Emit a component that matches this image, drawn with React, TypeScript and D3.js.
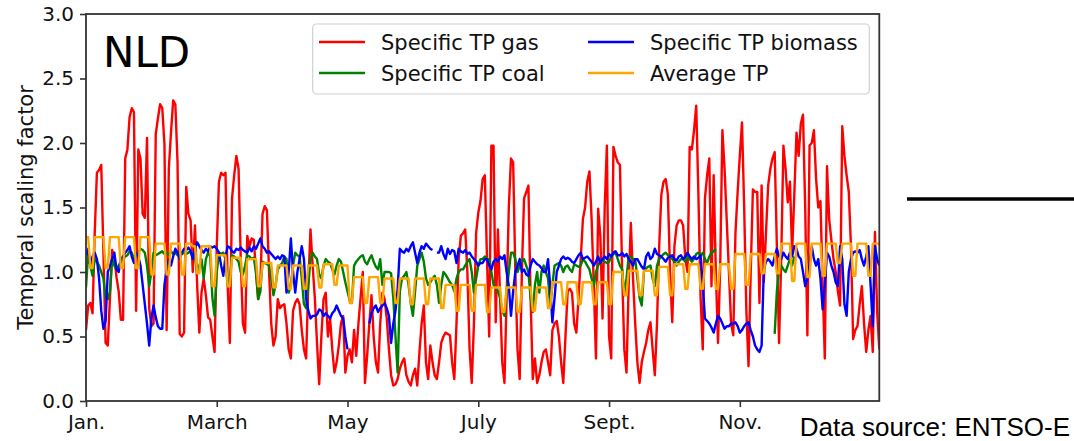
import React, { useEffect, useRef } from 'react';
import * as d3 from 'd3';

// x positions are day indices (0 = 1 Jan), one value per day
const monthTicks = [0, 60, 120, 180, 240, 300];
const monthLabels = ['Jan.', 'March', 'May', 'July', 'Sept.', 'Nov.'];
const yTicks = [0, 0.5, 1, 1.5, 2, 2.5, 3];

const gas = [
  0.55, 0.74, 0.76, 0.68, 1.3, 1.77, 1.79, 1.83, 1.15, 0.45,
  0.43, 0.8, 1.17, 1.12, 0.96, 0.85, 0.63, 0.63, 1.88, 1.95,
  2.2, 2.27, 2.24, 0.7, 1.95, 1.88, 1.45, 1.42, 2.04, 0.72,
  0.58, 0.6, 2.07, 2.19, 2.3, 2.27, 1.99, 0.55, 1.8, 2.08,
  2.33, 2.3, 1.85, 0.52, 0.5, 0.53, 1.66, 1.45, 1.4, 1.0,
  1.36, 0.9, 0.53, 0.84, 0.95, 0.82, 0.65, 0.63, 0.5, 0.38,
  1.2, 1.7, 1.77, 1.75, 1.77, 0.9, 0.45, 1.57, 1.75, 1.9,
  1.8, 1.1, 0.6, 0.53, 1.28, 1.2, 1.26, 1.25, 1.0, 0.79,
  0.9, 1.45, 1.51, 1.48, 1.0, 0.6, 0.43, 0.5, 0.79, 0.72,
  0.74, 0.75, 0.6, 0.4, 0.33, 0.7, 0.76, 0.79, 0.75, 0.55,
  0.4, 0.33, 0.9, 1.33, 1.05, 0.8, 0.45, 0.13, 0.5, 0.79,
  0.84, 0.5, 0.64, 0.4, 0.22, 0.3, 0.43, 0.6, 0.66, 0.22,
  0.35, 0.4, 0.3, 0.55, 0.35, 0.6, 0.8, 1.0, 0.14, 0.35,
  0.6, 0.82, 0.5, 0.3, 0.22, 0.6, 0.84, 0.79, 0.64, 0.4,
  0.2, 0.12, 0.13, 0.17, 0.25, 0.3, 0.33, 0.2, 0.15, 0.12,
  0.2, 0.25, 0.12, 0.38, 0.6, 0.74, 0.3, 0.17, 0.43, 0.3,
  0.2, 0.17, 0.3, 0.45, 0.5, 0.53, 0.52, 0.51, 0.3, 0.17,
  0.6, 1.1, 1.28, 1.3, 1.33, 1.0, 0.4, 0.14, 0.6, 1.3,
  1.46, 1.55, 1.72, 1.75, 1.1, 0.5, 1.98, 1.98, 0.61, 1.33,
  0.8, 0.3, 0.14, 0.8, 1.5, 1.88, 1.85, 1.0, 0.4, 0.17,
  1.0, 1.57, 1.62, 1.67, 0.8, 0.17, 0.33, 0.14, 0.2, 0.3,
  0.38, 0.4, 0.3, 0.2, 0.55, 0.6, 0.62, 0.5, 0.3, 0.14,
  0.5, 0.85, 0.87, 0.84, 0.6, 0.53, 0.8, 1.1, 1.41, 1.5,
  1.7, 1.78, 1.41, 0.9, 0.33, 1.49, 1.28, 0.64, 1.5, 1.98,
  0.5, 0.33, 1.97, 1.9, 1.85, 1.83, 1.0, 0.4, 0.22, 0.9,
  1.38, 0.95, 0.6, 0.3, 0.14, 0.3, 0.38, 0.45, 0.55, 0.61,
  0.4, 0.2, 0.6, 1.2, 1.6, 1.7, 1.72, 1.6, 1.0, 0.61,
  1.2, 1.36, 1.4, 1.4, 1.36, 1.1, 1.0, 1.97, 1.95, 2.1,
  2.29, 1.6, 0.8, 0.4, 1.57, 1.75, 1.88, 0.89, 1.75, 1.0,
  0.45, 1.05, 2.1, 1.8, 1.4, 1.0, 0.6, 0.51, 1.3, 1.62,
  1.9, 2.16, 1.5, 0.7, 0.27, 1.0, 1.64, 1.62, 1.62, 0.76,
  1.67, 0.92, 1.3, 1.67, 1.8, 1.88, 1.93, 1.2, 0.45, 1.1,
  1.98, 1.8, 1.54, 1.7, 1.15, 1.6, 2.08, 1.9, 2.15, 2.22,
  1.5, 0.51, 1.98, 2.0, 2.1, 1.72, 1.5, 1.55, 0.9, 0.33,
  1.82, 1.41, 1.25, 1.1, 1.0, 0.85, 0.74, 2.13, 1.9, 1.75,
  1.62, 1.2, 0.48, 0.55, 0.58, 0.75, 0.89, 0.6, 0.38, 0.55,
  0.66, 0.38, 1.31, 0.7, 0.4,
];

const coal = [
  0.88, 1.15, 1.05, 0.97, 1.1, 1.08, 1.05, 1.0, 0.95, 0.8,
  0.79, 0.85, 1.1, 1.05, 1.02, 1.05, 1.08, 1.1, 1.12, 1.13,
  1.16, 1.15, 1.1, 1.12, 1.15, 1.18, 1.17, 1.15, 1.05, 0.89,
  1.0, 1.15, 1.13, 1.14, 1.15, 1.16, 1.14, 1.15, 1.13, 1.16,
  1.14, 1.15, 1.13, 1.15, 1.14, 1.15, 1.14, 1.15, 1.16, 1.14,
  1.12, 1.0, 1.05, 1.1, 0.95, 1.1, 1.15, 1.12, 0.8, 0.66,
  1.0, 1.15, 1.14, 1.15, 1.1, 0.89, 0.95, 1.13, 1.12, 1.1,
  1.08, 1.0, 0.98, 1.05, 1.13, 1.12, 1.1, 1.11, 1.0, 0.79,
  0.85, 1.08, 1.07, 1.06, 1.05, 0.95, 0.82, 0.9, 1.02, 1.05,
  1.07, 1.12, 1.1, 0.84, 0.9, 1.05, 1.15, 1.13, 1.12, 0.95,
  0.75, 0.72, 0.9, 1.1, 1.15, 1.12, 1.1, 0.98, 0.95, 1.05,
  1.1, 1.08, 1.07, 1.02, 0.98, 1.05, 1.1, 1.08, 1.0, 0.92,
  0.85, 0.78, 0.76, 1.05, 1.08, 1.1, 1.12, 1.13, 1.08, 1.06,
  1.1, 1.13, 1.08, 1.04, 1.02, 1.1, 0.9, 1.0, 1.0, 1.0,
  0.99, 0.8, 0.5, 0.22, 0.85, 0.95, 0.97, 1.0, 0.9, 0.76,
  0.66, 0.85, 1.05, 1.1, 1.15, 1.08, 0.95, 0.9, 0.92, 0.95,
  0.97, 0.9, 0.76, 0.9, 1.0, 0.98, 0.95, 0.92, 0.9, 0.85,
  0.95, 1.0, 1.02, 1.02, 1.05, 1.08, 1.1, 1.0, 0.84, 0.95,
  1.05, 1.1, 1.1, 1.12, 1.1, 1.1, 1.0, 0.9, 0.88, 0.85,
  0.8, 0.7, 0.66, 0.85, 1.0, 1.15, 1.15, 1.1, 1.0, 1.05,
  1.08, 1.1, 1.05, 1.0, 0.8, 0.69, 0.9, 1.0, 0.84, 1.0,
  1.05, 1.0, 0.95, 0.74, 0.9, 1.05, 1.06, 1.07, 1.05, 1.0,
  1.04, 1.05, 1.02, 1.0, 1.06, 1.05, 1.04, 1.05, 1.1, 1.08,
  1.05, 1.02, 0.95, 0.89, 1.0, 1.05, 1.08, 1.1, 1.08, 1.07,
  1.08, 1.12, 1.14, 1.15, 1.1, 1.05, 1.02, 0.82, 0.95, 1.12,
  1.12, 1.1, 1.1, 0.95, 0.8, 0.74, 1.0, 1.03, 1.04, 1.05,
  0.95, 0.89, 1.05, 1.1, 1.12, 1.14, 1.15, 1.13, 1.12, 1.1,
  1.08, 1.05, 1.08, 1.1, 1.1, 1.08, 1.12, 1.1, 1.08, 1.1,
  1.14, 1.15, 1.13, 1.15, 1.1, 1.07, 1.12, 1.15, 1.16, 1.18,
  null, null, null, null, null, null, null, null, null, null,
  null, null, null, null, null, null, null, null, null, null,
  null, null, null, null, null, null,
  0.52, 0.85, 1.02, 1.05, 1.02, 1.0, 1.05, 1.1, 1.05, 1.12,
  null, null, null, null, null, null, null, null, null, null,
  null, null, null, null, null, null, null, null, null, null,
  null, null, null, null, null, null, null, null, null, null,
  null, null, null, null, null, null, null, null, null,
];

const biomass = [
  1.13, 1.18, 1.05, 1.12, 1.15, 1.1, 0.95, 0.7, 0.56, 0.62,
  1.0, 1.05, 1.1, 1.15, 1.02, 1.0, 1.1, 1.12, 1.15, 1.17,
  1.2, 1.12, 1.07, 1.15, 1.12, 1.05, 0.9, 0.75, 0.6, 0.43,
  0.64, 0.74, 0.65, 0.58, 0.56, 0.56, 0.9, 1.02, 1.1, 1.05,
  1.12, 1.18, 1.15, 1.1, 1.15, 1.18, 1.17, 1.19, 1.16, 1.1,
  1.18, 1.23, 1.2, 1.17, 1.15, 1.18, 1.16, 1.2, 1.19, 1.2,
  1.18, 1.15, 1.05, 0.97, 1.12, 1.2, 1.19, 1.16, 1.15, 1.18,
  1.17, 1.19, 1.17, 1.16, 1.15, 1.19, 1.16, 1.2, 1.18, 1.22,
  1.26, 1.2, 1.18, 1.15, 1.16, 1.14, 1.12, 1.1, 1.12, 1.1,
  1.13, 1.12, 0.84, 1.0, 1.26, 1.0, 0.84, 1.0, 1.1, 1.2,
  1.1, 0.8, 0.7, 0.64, 0.66, 0.66, 0.67, 0.71, 0.7, 0.66,
  0.68, 0.66, 0.64, 0.68, 0.7, 0.74, 0.7, 0.66, 0.64, 0.5,
  0.4, null, null, null, null, null, null, null, null, null,
  0.6, 0.68, 0.72, 0.74, 0.69, 0.72, 0.74, 0.76, 0.72, 0.66,
  0.45, 0.6, 0.7, 0.87, 1.18, 1.16, 1.15, 1.18, 1.16, 1.2,
  1.23, 1.15, 1.07, 1.15, 1.2, 1.18, 1.22, 1.2, 1.18, 1.17,
  null, 1.15, 1.15, 1.2, 1.14, 1.1, 1.18, 1.14, 1.17, 1.16,
  1.07, 1.18, 1.16, 1.15, 1.17, 1.14, 1.15, 1.12, 1.1, 1.08,
  1.05, 1.07, 1.07, 1.1, 1.1, 1.05, 1.02, 1.08, 1.1, 1.08,
  1.12, 1.1, 1.13, 1.0, 0.89, 0.66, 0.85, 1.0, 1.05, 1.1,
  1.0, 1.02, 0.98, 0.97, 1.05, 1.1, 1.08, 1.06, 1.05, 1.03,
  1.0, 1.0, 1.1, 0.89, 0.61, 0.8, 1.0, 1.05, 1.1, 1.12,
  1.1, 1.11, 1.1, 1.08, 1.07, 1.1, 1.13, 1.15, 1.1, 1.11,
  1.12, 1.1, 1.08, 1.05, 1.08, 1.12, 1.07, 1.1, 1.12, 1.1,
  1.14, 1.12, 1.15, 1.16, 1.13, 1.13, 1.15, 1.12, 1.14, 1.1,
  1.08, 1.05, 1.1, 1.1, 1.07, 1.04, 1.02, 1.12, 1.15, 1.1,
  1.12, 1.18, 1.14, 1.13, 1.12, 1.1, 1.08, 1.11, 1.12, 1.13,
  1.1, 1.09, 1.12, 1.13, 1.1, 1.12, 1.15, 1.12, 1.1, 1.12,
  1.1, 1.11, 1.13, 0.9, 0.64, 0.62, 0.6, 0.57, 0.53, 0.6,
  0.66, 0.64, 0.6, 0.56, 0.58, 0.58, 0.6, 0.6, 0.61, 0.58,
  0.53, 0.55, 0.58, 0.6, 0.61, 0.55, 0.5, 0.43, 0.4, 0.38,
  0.43, 1.02, 1.08, 1.1, 1.08, 1.05, 1.12, 1.18, 1.12, 1.1,
  1.15, 1.12, 1.1, 1.15, 1.12, 1.2, 1.18, 1.12, 1.1, 1.0,
  0.89, 0.95, 1.05, 1.2, 1.1, 1.05, 1.1, 0.95, 0.71, 0.9,
  1.15, 1.12, 1.05, 1.0, 0.92, 0.89, 1.2, 1.1, 0.75, 0.66,
  1.0, 1.1, 1.15, 1.16, 1.15, 1.17, 1.1, 1.05, 1.12, 1.2,
  0.9, 0.58, 1.2, 1.1, 1.05,
];

// one row per week
const average = [
  1.27, 1.27, 1.03, 1.03, 1.27, 1.27, 1.27,
  1.27, 1.27, 1.03, 1.03, 1.27, 1.27, 1.27,
  1.27, 1.27, 1.03, 1.03, 1.27, 1.27, 1.27,
  1.27, 1.27, 1.03, 1.03, 1.27, 1.27, 1.27,
  1.27, 1.27, 0.98, 0.98, 1.22, 1.22, 1.22,
  1.22, 1.22, 0.98, 0.98, 1.22, 1.22, 1.22,
  1.22, 1.22, 0.98, 0.98, 1.22, 1.22, 1.22,
  1.2, 1.2, 0.99, 0.99, 1.2, 1.2, 1.2,
  1.2, 1.2, 0.89, 0.89, 1.13, 1.13, 1.13,
  1.13, 1.13, 0.89, 0.89, 1.11, 1.11, 1.11,
  1.11, 1.11, 0.89, 0.89, 1.1, 1.1, 1.1,
  1.1, 1.1, 0.89, 0.89, 1.07, 1.07, 1.07,
  1.07, 1.07, 0.88, 0.88, 1.05, 1.05, 1.05,
  1.05, 1.05, 0.87, 0.87, 1.05, 1.05, 1.05,
  1.05, 1.05, 0.87, 0.87, 1.05, 1.05, 1.05,
  1.05, 1.05, 0.88, 0.88, 1.06, 1.06, 1.06,
  1.06, 1.06, 0.9, 0.9, 1.05, 1.05, 1.05,
  1.05, 1.05, 0.76, 0.76, 0.96, 0.96, 0.96,
  0.96, 0.96, 0.76, 0.76, 0.96, 0.96, 0.96,
  0.96, 0.96, 0.76, 0.76, 0.95, 0.95, 0.95,
  0.95, 0.95, 0.76, 0.76, 0.95, 0.95, 0.95,
  0.95, 0.95, 0.75, 0.75, 0.95, 0.95, 0.95,
  0.95, 0.95, 0.75, 0.75, 0.95, 0.95, 0.95,
  0.95, 0.95, 0.72, 0.72, 0.9, 0.9, 0.9,
  0.9, 0.9, 0.7, 0.7, 0.9, 0.9, 0.9,
  0.9, 0.9, 0.7, 0.7, 0.9, 0.9, 0.9,
  0.9, 0.9, 0.69, 0.69, 0.88, 0.88, 0.88,
  0.88, 0.88, 0.69, 0.69, 0.88, 0.88, 0.88,
  0.88, 0.88, 0.69, 0.69, 0.88, 0.88, 0.88,
  0.88, 0.88, 0.7, 0.7, 0.88, 0.88, 0.88,
  0.88, 0.88, 0.72, 0.72, 0.92, 0.92, 0.92,
  0.92, 0.92, 0.75, 0.75, 0.92, 0.92, 0.92,
  0.92, 0.92, 0.75, 0.75, 0.92, 0.92, 0.92,
  0.92, 0.92, 0.75, 0.75, 0.92, 0.92, 0.92,
  0.92, 0.92, 0.75, 0.75, 1.0, 1.0, 1.0,
  1.0, 1.0, 0.82, 0.82, 1.01, 1.01, 1.01,
  1.01, 1.01, 0.82, 0.82, 1.01, 1.01, 1.01,
  1.01, 1.01, 0.82, 0.82, 1.04, 1.04, 1.04,
  1.04, 1.04, 0.82, 0.82, 1.06, 1.06, 1.06,
  1.06, 1.06, 0.87, 0.87, 1.06, 1.06, 1.06,
  1.06, 1.06, 0.87, 0.87, 1.06, 1.06, 1.06,
  1.06, 1.06, 0.87, 0.87, 1.06, 1.06, 1.06,
  1.06, 1.06, 0.87, 0.87, 1.14, 1.14, 1.14,
  1.14, 1.14, 0.9, 0.9, 1.14, 1.14, 1.14,
  1.14, 1.14, 0.99, 0.99, 1.14, 1.14, 1.14,
  1.14, 1.14, 0.99, 0.99, 1.22, 1.22, 1.22,
  1.22, 1.22, 0.93, 0.93, 1.22, 1.22, 1.22,
  1.22, 1.22, 0.96, 0.96, 1.22, 1.22, 1.22,
  1.22, 1.22, 0.97, 0.97, 1.22, 1.22, 1.22,
  1.22, 1.22, 1.07, 1.07, 1.22, 1.22, 1.22,
  1.22, 1.22, 0.97, 0.97, 1.22, 1.22, 1.22,
  1.22, 1.22, 0.97, 0.97, 1.22, 1.22, 1.22,
  1.22,
];

const series = [
  { name: 'Specific TP gas', values: gas, color: '#ff0000' },
  { name: 'Specific TP coal', values: coal, color: '#008000' },
  { name: 'Specific TP biomass', values: biomass, color: '#0000ff' },
  { name: 'Average TP', values: average, color: '#ffa500' },
];

const W = 1074;
const H = 441;
const box = { left: 86, right: 879.3, top: 14, bottom: 401 };
const FONT = '"DejaVu Sans", sans-serif';

const App = () => {
  const svgRef = useRef<SVGSVGElement>(null);

  useEffect(() => {
    const svg = d3.select(svgRef.current);
    svg.selectAll('*').remove();

    const x = d3.scaleLinear().domain([0, gas.length - 1]).range([box.left, box.right]);
    const y = d3.scaleLinear().domain([0, 3]).range([box.bottom, box.top]);

    svg.append('rect').attr('width', W).attr('height', H).attr('fill', '#fff');

    svg.append('clipPath').attr('id', 'plot-clip')
      .append('rect')
      .attr('x', box.left).attr('y', box.top)
      .attr('width', box.right - box.left).attr('height', box.bottom - box.top);

    // lines
    const line = d3.line<number | null>()
      .defined((d) => d != null)
      .x((_, i) => x(i))
      .y((d) => y(d as number));

    const lines = svg.append('g').attr('clip-path', 'url(#plot-clip)');
    series.forEach((s) => {
      lines.append('path')
        .datum(s.values)
        .attr('fill', 'none')
        .attr('stroke', s.color)
        .attr('stroke-width', 2.4)
        .attr('stroke-linejoin', 'round')
        .attr('d', line);
    });

    // axes
    const yAxis = svg.append('g')
      .attr('transform', `translate(${box.left},0)`)
      .call(d3.axisLeft(y).tickValues(yTicks).tickFormat(d3.format('.1f')).tickSize(6).tickPadding(6));
    const xAxis = svg.append('g')
      .attr('transform', `translate(0,${box.bottom})`)
      .call(d3.axisBottom(x).tickValues(monthTicks).tickFormat((_, i) => monthLabels[i]).tickSize(6).tickPadding(8));
    [yAxis, xAxis].forEach((g) => {
      g.select('.domain').remove();
      g.selectAll('line').attr('stroke', '#333').attr('stroke-width', 1.6);
      g.selectAll('text').attr('fill', '#111').style('font-family', FONT).style('font-size', '20px');
    });

    svg.append('rect')
      .attr('x', box.left).attr('y', box.top)
      .attr('width', box.right - box.left).attr('height', box.bottom - box.top)
      .attr('fill', 'none').attr('stroke', '#333').attr('stroke-width', 1.8);

    svg.append('text')
      .attr('transform', `translate(33,${(box.top + box.bottom) / 2}) rotate(-90)`)
      .attr('text-anchor', 'middle')
      .style('font-family', FONT).style('font-size', '21px')
      .attr('fill', '#111')
      .text('Temporal scaling factor');

    svg.append('text')
      .attr('x', 103).attr('y', 67)
      .style('font-family', FONT).style('font-size', '42px')
      .attr('fill', '#000')
      .text('NLD');

    // legend, two columns
    const legend = svg.append('g');
    legend.append('rect')
      .attr('x', 312.7).attr('y', 24).attr('width', 556.6).attr('height', 70)
      .attr('rx', 4)
      .attr('fill', '#fff').attr('fill-opacity', 0.8)
      .attr('stroke', '#d0d0d0').attr('stroke-width', 1.2);
    const cols = [319, 588];
    const rows = [42, 73];
    series.forEach((s, i) => {
      const cx = cols[Math.floor(i / 2)];
      const cy = rows[i % 2];
      legend.append('line')
        .attr('x1', cx).attr('x2', cx + 46).attr('y1', cy).attr('y2', cy)
        .attr('stroke', s.color).attr('stroke-width', 2.4);
      legend.append('text')
        .attr('x', cx + 62).attr('y', cy + 7.5)
        .style('font-family', FONT).style('font-size', '21px')
        .attr('fill', '#111')
        .text(s.name);
    });

    svg.append('line')
      .attr('x1', 907).attr('x2', W).attr('y1', 199).attr('y2', 199)
      .attr('stroke', '#000').attr('stroke-width', 3.5);

    svg.append('text')
      .attr('x', 1070).attr('y', 435.5)
      .attr('text-anchor', 'end')
      .style('font-family', '"Liberation Sans", Arial, sans-serif').style('font-size', '26px')
      .attr('fill', '#000')
      .text('Data source: ENTSO-E');
  }, []);

  return (
    <svg ref={svgRef} width={W} height={H}
      style={{ position: 'absolute', left: 0, top: 0, display: 'block' }} />
  );
};

export default App;
